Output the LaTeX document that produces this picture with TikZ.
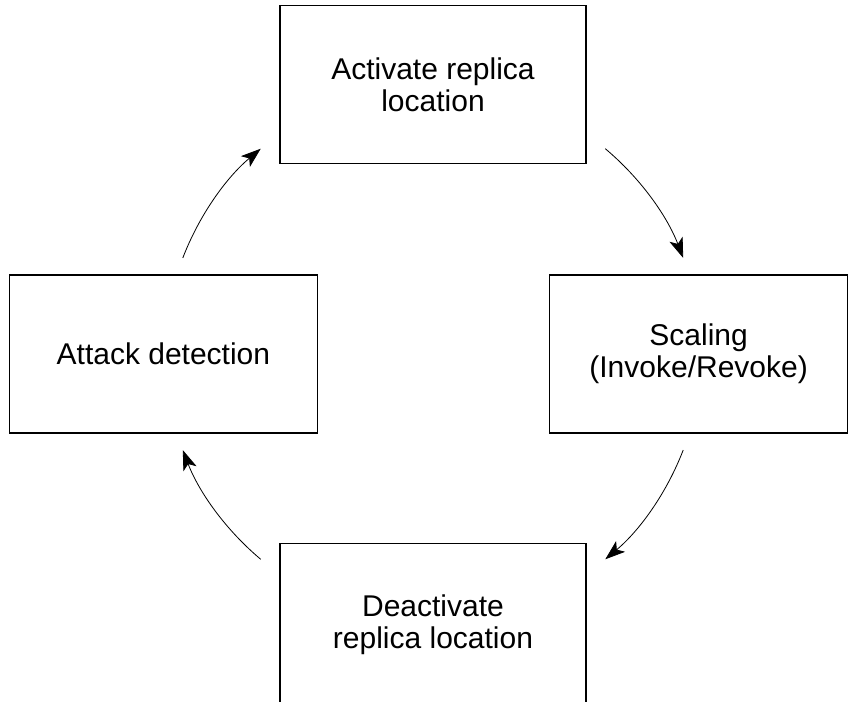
\documentclass[tikz,border=0pt]{standalone}
\usepackage{fontspec}
\setmainfont{Liberation Sans}
\usetikzlibrary{arrows.meta, positioning}

\begin{document}
\begin{tikzpicture}[
    x=1pt, y=1pt, font=\fontsize{30}{32}\selectfont,
    box/.style={draw, align=center, minimum height=158pt, inner sep=3pt, line width=1.2pt},
    cyc/.style={-{Stealth[length=20pt, width=14pt, inset=5pt]}, line width=0.8pt}]
\useasboundingbox (0,0) rectangle (848,701);
\clip (0,0) rectangle (848,701);
\coordinate (hub) at (433,347);
\node[box, minimum width=306pt, above=190pt of hub] (activate) {Activate replica\\location};
\node[box, minimum width=298pt, right=116pt of hub] (scaling) {Scaling\\(Invoke/Revoke)};
\node[box, minimum width=306pt, minimum height=162pt, below=189pt of hub] (deactivate) {Deactivate\\replica location};
\node[box, minimum width=308pt, left=115pt of hub] (attack) {Attack detection};
\draw[cyc] ([shift={(159:268pt)}]hub) arc[start angle=159, end angle=130, radius=268pt];
\draw[cyc] ([shift={(50:268pt)}]hub) arc[start angle=50, end angle=21, radius=268pt];
\draw[cyc] ([shift={(-21:268pt)}]hub) arc[start angle=-21, end angle=-50, radius=268pt];
\draw[cyc] ([shift={(230:268pt)}]hub) arc[start angle=230, end angle=201, radius=268pt];
\end{tikzpicture}
\end{document}
